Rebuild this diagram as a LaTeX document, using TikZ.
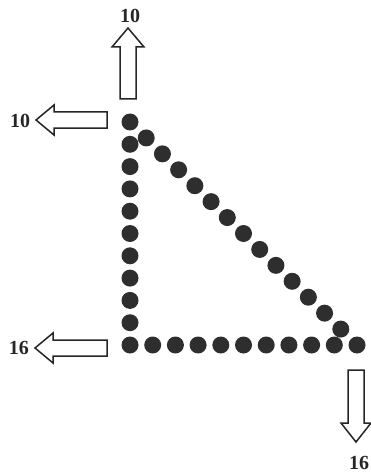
\documentclass[tikz,border=0pt]{standalone}
\usepackage{fontspec}
\setmainfont{Liberation Serif}
\begin{document}
\begin{tikzpicture}[x=1pt,y=-1pt,
  dot/.style={circle,fill=black!82,inner sep=0pt,minimum size=17pt},
  hollow/.style={draw=black!85,line width=1.5pt,fill=white,line join=miter},
  lbl/.style={font=\bfseries\fontsize{20}{22}\selectfont,text=black!85,inner sep=0pt}]
\useasboundingbox (0,0) rectangle (371,476);
% dots: vertical column
\foreach \i in {0,...,10}
  \node[dot] (v\i) at (130,{122+\i*22.3}) {};
% bottom row
\foreach \i in {1,...,10}
  \node[dot] (h\i) at ({130+\i*22.7},345) {};
% hypotenuse
\foreach \k in {1,...,13}
  \node[dot] (d\k) at ({130+\k*227/14},{122+\k*223/14}) {};
% arrows
% up
\draw[hollow] (120,99) -- (120,47) -- (112,47) -- (128,28) -- (144,47) -- (136,47) -- (136,99) -- cycle;
% left top
\draw[hollow] (107,112) -- (54,112) -- (54,105) -- (36,120) -- (54,135) -- (54,128) -- (107,128) -- cycle;
% left bottom
\draw[hollow] (107,340) -- (53,340) -- (53,333) -- (35,348) -- (53,363) -- (53,356) -- (107,356) -- cycle;
% down
\draw[hollow] (348,370) -- (348,423) -- (341,423) -- (356,442) -- (371,423) -- (364,423) -- (364,370) -- cycle;
% labels
\node[lbl] (t1) at (130,16) {10};
\node[lbl] (t2) at (20,121) {10};
\node[lbl] (t3) at (19,348) {16};
\node[lbl] (t4) at (359,463) {16};
\end{tikzpicture}
\end{document}
